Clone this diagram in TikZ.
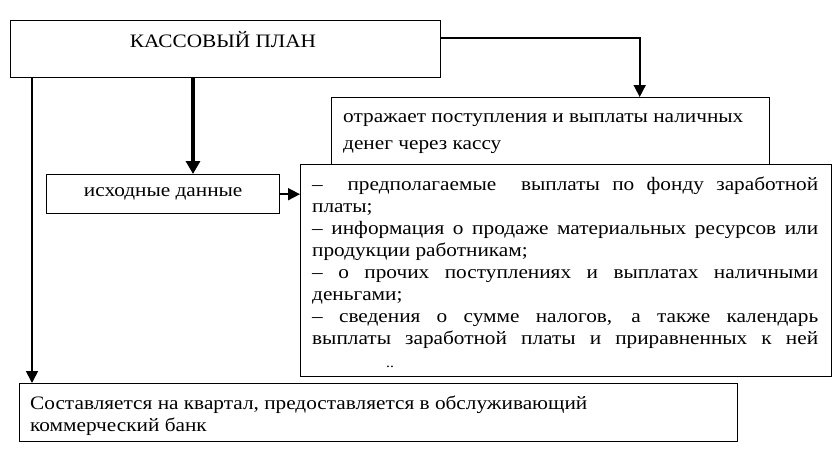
\documentclass[tikz,border=0pt]{standalone}
\usepackage{fontspec}
\setmainfont[FakeStretch=1.12]{Liberation Serif}
\usetikzlibrary{arrows.meta}
\begin{document}
\begin{tikzpicture}[x=1pt,y=-1pt,
  box/.style={draw=black, line width=1.4pt, fill=white, rectangle, inner sep=0pt, anchor=north west},
  conn/.style={draw=black, line width=1.7pt, -{Triangle[length=12pt,width=12pt]}},
  thickconn/.style={draw=black, line width=3.2pt, -{Triangle[length=13pt,width=14pt]}},
  txt/.style={inner sep=0pt, font=\fontsize{19}{22}\selectfont},
]
\useasboundingbox[fill=white] (0,0) rectangle (838,450);

% boxes
\node[box, minimum width=430pt, minimum height=57pt] (title) at (10,20) {};
\node[inner sep=0pt, font=\fontsize{19}{22}\selectfont] (titletext) at (223,40) {КАССОВЫЙ ПЛАН};

\node[box, minimum width=438pt, minimum height=75pt] (box2) at (331,97) {};
\node[txt, anchor=north west, align=left] (box2text) at (343,113)
  {отражает поступления и выплаты наличных\\[5pt] денег через кассу};

\node[box, minimum width=233pt, minimum height=39pt] (ish) at (46,174) {};
\node[txt] (ishtext) at (ish.center) {исходные данные};

\node[box, minimum width=531pt, minimum height=212pt] (list) at (300,164) {};
\node[txt, anchor=north west, align=justify, text width=506pt] (listtext) at (312,177)
  {\noindent – \ предполагаемые \ выплаты по фонду заработной\linebreak
   платы;\newline
   – информация о продаже материальных ресурсов или\linebreak
   продукции работникам;\newline
   – о прочих поступлениях и выплатах наличными\linebreak
   деньгами;\newline
   – сведения о сумме налогов, а также календарь\linebreak
   выплаты заработной платы и приравненных к ней\linebreak};
\node[inner sep=0pt, font=\fontsize{14}{14}\selectfont] (dots) at (390,367) {..};

\node[box, minimum width=718pt, minimum height=58pt] (bottom) at (19,383) {};
\node[txt, anchor=north west, align=left] (bottomtext) at (30,396)
  {Составляется на квартал, предоставляется в обслуживающий\\
   коммерческий банк};

% connectors
\draw[conn] ([yshift=-18pt]title.north east) -| ([xshift=89pt]box2.north);
\draw[conn] ([xshift=22pt]title.south west) -- ([xshift=22pt]title.south west |- bottom.north);
\draw[thickconn] ([xshift=183pt]title.south west) -- ([xshift=183pt]title.south west |- ish.north);
\draw[conn] (ish.east) -- (list.west |- ish.east);
\end{tikzpicture}
\end{document}
